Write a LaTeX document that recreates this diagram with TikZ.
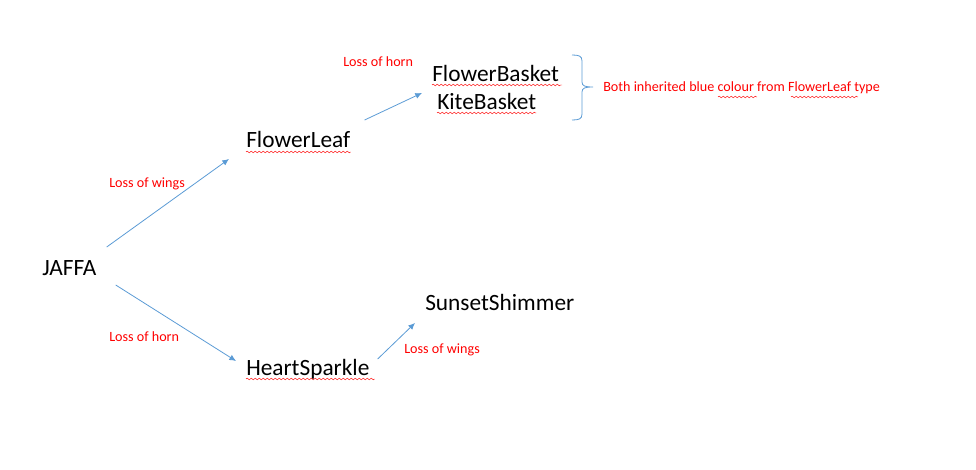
\documentclass[tikz,border=0pt]{standalone}
\usepackage{fontspec}
\setmainfont{Carlito}
\usetikzlibrary{arrows.meta,decorations.pathmorphing}
\definecolor{arrowblue}{HTML}{5B9BD5}
\begin{document}
\begin{tikzpicture}[x=0.75pt, y=-0.75pt, >={Latex[length=5pt,width=4.5pt]},
	breed/.style={anchor=base west, inner sep=0pt, font=\fontsize{17.5}{20}\selectfont},
	loss/.style={anchor=base west, inner sep=0pt, text=red, font=\fontsize{10.6}{12}\selectfont},
	arrowline/.style={->, draw=arrowblue, line width=0.6pt},
	spell/.style={draw=red, line width=0.35pt, decorate, decoration={snake, segment length=3pt, amplitude=0.6pt}}]
	\useasboundingbox (0,0) rectangle (976,470);
	
	% 1. 品种名称
	\node[breed] (jaffa) at (42,276) {JAFFA};
	\node[breed] (flowerleaf) at (246,148) {FlowerLeaf};
	\node[breed] (flowerbasket) at (432,82) {FlowerBasket};
	\node[breed] (kitebasket) at (437,110) {KiteBasket};
	\node[breed] (heartsparkle) at (246,376) {HeartSparkle};
	\node[breed] (sunsetshimmer) at (425,311) {SunsetShimmer};
	
	% 2. 箭头（蓝色）
	\draw[arrowline] ([shift={(10,-29)}]jaffa.base east) -- ([shift={(-17,11)}]flowerleaf.base west);
	\draw[arrowline] ([shift={(19,9)}]jaffa.base east) -- ([shift={(-10,-15)}]heartsparkle.base west);
	\draw[arrowline] ([shift={(14,-28)}]flowerleaf.base east) -- ([shift={(-10,11)}]flowerbasket.base west);
	\draw[arrowline] ([shift={(8,-17)}]heartsparkle.base east) -- ([shift={(-10,12)}]sunsetshimmer.base west);
	
	% 3. 变化说明（红字）
	\node[loss] (wings1) at (109,188) {Loss of wings};
	\node[loss] (horn1) at (109,342) {Loss of horn};
	\node[loss] (horn2) at (343,67) {Loss of horn};
	\node[loss] (wings2) at (404,354) {Loss of wings};
	\node[loss] (note) at (603,92) {Both inherited blue colour from FlowerLeaf type};
	
	% 4. 右花括号
	\draw[arrowblue, line width=0.6pt] (572,55) .. controls (579,55) and (582,56) .. (582,61) -- (582,82)
		.. controls (582,86) and (585,87) .. (593,87)
		.. controls (585,87) and (582,88) .. (582,92) -- (582,114)
		.. controls (582,119) and (579,120) .. (572,120);
	
	% 5. 拼写检查波浪线
	\draw[spell] ([shift={(0,4)}]flowerleaf.base west) -- ([shift={(0,4)}]flowerleaf.base east);
	\draw[spell] ([shift={(0,3)}]flowerbasket.base west) -- ([shift={(3,3)}]flowerbasket.base east);
	\draw[spell] ([shift={(0,3)}]kitebasket.base west) -- ([shift={(0,3)}]kitebasket.base east);
	\draw[spell] ([shift={(0,3)}]heartsparkle.base west) -- ([shift={(5,3)}]heartsparkle.base east);
	\draw[spell] ([shift={(115,5)}]note.base west) -- ([shift={(154,5)}]note.base west);
	\draw[spell] ([shift={(188,5)}]note.base west) -- ([shift={(255,5)}]note.base west);
\end{tikzpicture}
\end{document}
